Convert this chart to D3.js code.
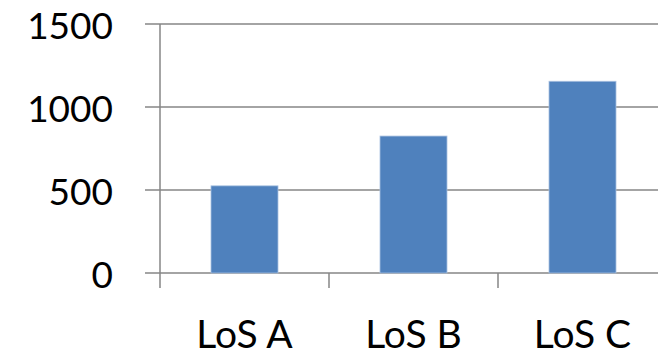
<!DOCTYPE html>
<html>
<head>
<meta charset="utf-8">
<script src="https://cdn.jsdelivr.net/npm/d3@7"></script>
<style>
  html, body { margin: 0; padding: 0; background: #fff; }
  svg { display: block; }
  text { font-family: Lato, "Open Sans", sans-serif; fill: #000; }
</style>
</head>
<body>
<script>
// Level-of-service categories and their counts
const categories = ["LoS A", "LoS B", "LoS C"];
const values = [525, 825, 1155];
const yTicks = [0, 500, 1000, 1500];

const width = 658, height = 356;
const plot = { left: 160, right: 667, top: 24, bottom: 273 };

const svg = d3.select("body").append("svg")
  .attr("width", width)
  .attr("height", height);

const x = d3.scaleBand()
  .domain(categories)
  .range([plot.left, plot.right])
  .paddingInner(0)
  .paddingOuter(0);

const y = d3.scaleLinear()
  .domain([0, 1500])
  .range([plot.bottom, plot.top]);

const gridColor = "#868686";

// horizontal gridlines with ticks extending left of the axis
svg.append("g")
  .selectAll("line")
  .data(yTicks)
  .join("line")
  .attr("x1", plot.left - 15)
  .attr("x2", width)
  .attr("y1", d => y(d))
  .attr("y2", d => y(d))
  .attr("stroke", gridColor)
  .attr("stroke-width", 1.5);

// y tick labels
svg.append("g")
  .selectAll("text")
  .data(yTicks)
  .join("text")
  .attr("x", 113)
  .attr("y", d => y(d))
  .attr("text-anchor", "end")
  .attr("dominant-baseline", "central")
  .style("font-size", "37px")
  .text(d => d);

// bars
const barWidth = 67;
svg.append("g")
  .selectAll("rect")
  .data(values)
  .join("rect")
  .attr("x", (d, i) => x(categories[i]) + x.bandwidth() / 2 - barWidth / 2)
  .attr("y", d => y(d))
  .attr("width", barWidth)
  .attr("height", d => y(0) - y(d))
  .attr("fill", "#4F81BD")
  .attr("stroke", "#A9C1E0")
  .attr("stroke-width", 0.8);

// vertical axis line
svg.append("line")
  .attr("x1", plot.left).attr("x2", plot.left)
  .attr("y1", y(1500)).attr("y2", plot.bottom + 15)
  .attr("stroke", gridColor)
  .attr("stroke-width", 1.5);

// category divider ticks below the baseline
svg.append("g")
  .selectAll("line")
  .data(categories.slice(1))
  .join("line")
  .attr("x1", d => x(d)).attr("x2", d => x(d))
  .attr("y1", plot.bottom).attr("y2", plot.bottom + 15)
  .attr("stroke", gridColor)
  .attr("stroke-width", 1.5);

// category labels
svg.append("g")
  .selectAll("text")
  .data(categories)
  .join("text")
  .attr("x", d => x(d) + x.bandwidth() / 2)
  .attr("y", 348)
  .attr("text-anchor", "middle")
  .style("font-size", "39px")
  .text(d => d);
</script>
</body>
</html>
